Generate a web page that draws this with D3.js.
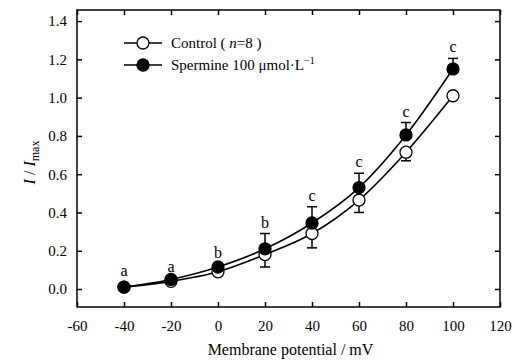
<!DOCTYPE html>
<html>
<head>
<meta charset="utf-8">
<script src="https://cdn.jsdelivr.net/npm/d3@7"></script>
<style>
  body { margin: 0; background: #fff; }
</style>
</head>
<body>
<div class="main"></div>
<script>
const w = 515;
const h = 361;
const margin = { top: 10, right: 15, bottom: 54, left: 77 };
const FONT = '"Liberation Serif", "DejaVu Serif", serif';

const potentials = [-40, -20, 0, 20, 40, 60, 80, 100];
const control = [0.01, 0.04, 0.09, 0.18, 0.29, 0.465, 0.715, 1.01];
const controlErr = [0, 0.01, 0.015, 0.065, 0.075, 0.065, 0.045, 0];
const spermine = [0.01, 0.05, 0.115, 0.21, 0.345, 0.53, 0.805, 1.15];
const spermineErr = [0, 0.01, 0.015, 0.08, 0.085, 0.075, 0.065, 0.055];
const letters = ['a', 'a', 'b', 'b', 'c', 'c', 'c', 'c'];
const xTicks = [-60, -40, -20, 0, 20, 40, 60, 80, 100, 120];
const yTicks = [0.0, 0.2, 0.4, 0.6, 0.8, 1.0, 1.2, 1.4];

const svg = d3.select('.main').append('svg')
  .attr('width', w).attr('height', h)
  .style('font-family', FONT);

const x = d3.scaleLinear().domain([-60, 120]).range([margin.left, w - margin.right]);
const y = d3.scaleLinear().domain([-0.094, 1.458]).range([h - margin.bottom, margin.top]);

// frame
svg.append('rect')
  .attr('x', margin.left).attr('y', margin.top)
  .attr('width', w - margin.left - margin.right)
  .attr('height', h - margin.top - margin.bottom)
  .attr('fill', 'none').attr('stroke', '#000').attr('stroke-width', 1.5);

const fmt = d3.format('.1f');

function style(g) {
  g.attr('font-family', FONT);
  g.select('.domain').remove();
  g.selectAll('line').attr('stroke-width', 1.5);
  g.selectAll('text').attr('font-size', 15).attr('fill', '#000').style('font-family', FONT);
}

svg.append('g')
  .attr('transform', `translate(0,${h - margin.bottom})`)
  .call(d3.axisBottom(x).tickValues(xTicks).tickSize(-5).tickPadding(13).tickFormat(d => String(d)))
  .call(style);

svg.append('g')
  .attr('transform', `translate(0,${margin.top})`)
  .call(d3.axisTop(x).tickValues(xTicks).tickSize(-5).tickFormat(''))
  .call(style);

svg.append('g')
  .attr('transform', `translate(${margin.left},0)`)
  .call(d3.axisLeft(y).tickValues(yTicks).tickSize(-5).tickPadding(10).tickFormat(fmt))
  .call(style);

svg.append('g')
  .attr('transform', `translate(${w - margin.right},0)`)
  .call(d3.axisRight(y).tickValues(yTicks).tickSize(-5).tickFormat(''))
  .call(style);

// axis titles
svg.append('text')
  .attr('x', (margin.left + w - margin.right) / 2 + 2)
  .attr('y', h - 6)
  .attr('text-anchor', 'middle')
  .attr('font-size', 16)
  .text('Membrane potential / mV');

const yl = svg.append('text')
  .attr('transform', `translate(35,${(margin.top + h - margin.bottom) / 2 + 4}) rotate(-90)`)
  .attr('text-anchor', 'middle')
  .attr('font-size', 16);
yl.append('tspan').attr('font-style', 'italic').text('I');
yl.append('tspan').text(' / ');
yl.append('tspan').attr('font-style', 'italic').text('I');
yl.append('tspan').attr('font-size', 12).attr('dy', 4).text('max');

const line = d3.line()
  .x(d => x(d[0]))
  .y(d => y(d[1]))
  .curve(d3.curveMonotoneX);

const series = [
  { vals: control, err: controlErr, fill: '#fff', dir: -1 },
  { vals: spermine, err: spermineErr, fill: '#000', dir: 1 }
];

series.forEach(s => {
  const pts = potentials.map((p, i) => [p, s.vals[i]]);
  svg.append('path')
    .datum(pts)
    .attr('d', line)
    .attr('fill', 'none')
    .attr('stroke', '#000')
    .attr('stroke-width', 1.6);
});

// error bars
series.forEach(s => {
  const g = svg.append('g').attr('stroke', '#000').attr('stroke-width', 1.5);
  potentials.forEach((p, i) => {
    if (!s.err[i]) return;
    const yEnd = y(s.vals[i] + s.dir * s.err[i]);
    g.append('line')
      .attr('x1', x(p)).attr('x2', x(p))
      .attr('y1', y(s.vals[i])).attr('y2', yEnd);
    g.append('line')
      .attr('x1', x(p) - 5).attr('x2', x(p) + 5)
      .attr('y1', yEnd).attr('y2', yEnd);
  });
});

// markers (open first, filled on top)
series.forEach(s => {
  svg.append('g').selectAll('circle')
    .data(potentials)
    .enter()
    .append('circle')
    .attr('cx', d => x(d))
    .attr('cy', (d, i) => y(s.vals[i]))
    .attr('r', 6)
    .attr('fill', s.fill)
    .attr('stroke', '#000')
    .attr('stroke-width', 1.3);
});

// significance letters
svg.append('g').selectAll('text')
  .data(potentials)
  .enter()
  .append('text')
  .attr('x', d => x(d))
  .attr('y', (d, i) => y(spermine[i] + spermineErr[i]) - (spermineErr[i] ? 6 : 11))
  .attr('text-anchor', 'middle')
  .attr('font-size', 16)
  .attr('fill', '#000')
  .text((d, i) => letters[i]);

// legend
const legend = [
  { fill: '#fff', y: 43 },
  { fill: '#000', y: 65 }
];
legend.forEach(l => {
  svg.append('line')
    .attr('x1', 124).attr('x2', 162)
    .attr('y1', l.y).attr('y2', l.y)
    .attr('stroke', '#000').attr('stroke-width', 1.6);
  svg.append('circle')
    .attr('cx', 143).attr('cy', l.y).attr('r', 6)
    .attr('fill', l.fill).attr('stroke', '#000').attr('stroke-width', 1.3);
});

const t1 = svg.append('text').attr('x', 171).attr('y', 48).attr('font-size', 15);
t1.append('tspan').text('Control ( ');
t1.append('tspan').attr('font-style', 'italic').text('n');
t1.append('tspan').text('=8 )');

const t2 = svg.append('text').attr('x', 171).attr('y', 70).attr('font-size', 15);
t2.append('tspan').text('Spermine 100 μmol·L');
t2.append('tspan').attr('font-size', 10).attr('dy', -6).text('−1');
</script>
</body>
</html>
